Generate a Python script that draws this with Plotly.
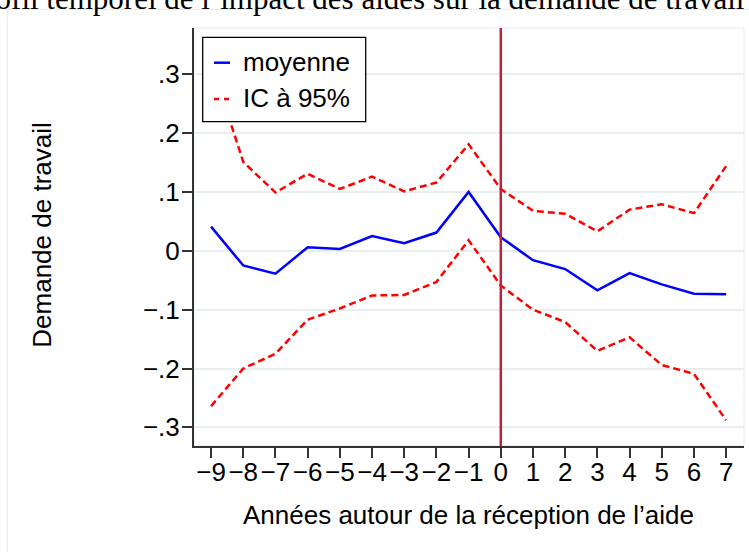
import plotly.graph_objects as go

# Data
annees = list(range(-9, 8))
moyenne = [0.041, -0.025, -0.039, 0.006, 0.003, 0.025, 0.013, 0.031, 0.100, 0.023,
           -0.016, -0.031, -0.067, -0.038, -0.057, -0.073, -0.074]
ic_haut = [0.320, 0.151, 0.099, 0.131, 0.105, 0.126, 0.101, 0.116, 0.181, 0.105,
           0.068, 0.063, 0.033, 0.070, 0.079, 0.064, 0.144]
ic_bas = [-0.264, -0.200, -0.175, -0.117, -0.098, -0.076, -0.075, -0.053, 0.018, -0.059,
          -0.100, -0.121, -0.170, -0.147, -0.194, -0.209, -0.288]

x_ticks = list(range(-9, 8))
x_ticktext = [("\u2212" + str(-v)) if v < 0 else str(v) for v in x_ticks]
y_ticks = [-0.3, -0.2, -0.1, 0.0, 0.1, 0.2, 0.3]
y_ticktext = ["\u2212.3", "\u2212.2", "\u2212.1", "0", ".1", ".2", ".3"]

titre = "Profil temporel de l\u2019impact des aides sur la demande de travail"
titre_x = "Ann\u00e9es autour de la r\u00e9ception de l\u2019aide"
titre_y = "Demande de travail"
noms = ["moyenne", "IC \u00e0 95%"]

FONT = "Liberation Sans, Arial, sans-serif"
AXIS = "#333333"
LIGHT = "#e3eaec"
BLEU = "#0000ff"
ROUGE = "#ff0000"
DASH = "7px,4px"

fig = go.Figure()
fig.add_trace(go.Scatter(x=annees, y=moyenne, mode="lines", name=noms[0],
                         line=dict(color=BLEU, width=2.5)))
fig.add_trace(go.Scatter(x=annees, y=ic_haut, mode="lines", name=noms[1],
                         line=dict(color=ROUGE, width=2.5, dash=DASH)))
fig.add_trace(go.Scatter(x=annees, y=ic_bas, mode="lines", name=noms[1],
                         line=dict(color=ROUGE, width=2.5, dash=DASH)))

W, H = 749, 552
ml, mr, mt, mb = 194, 5, 28, 106
pw, ph = W - ml - mr, H - mt - mb

def px_x(p):
    return (p - ml) / pw

def px_y(p):
    return 1 - (p - mt) / ph

shapes = [
    # outer graph-region frame
    dict(type="rect", xref="paper", yref="paper",
         x0=px_x(7.3), x1=px_x(800), y0=px_y(640), y1=px_y(9.3),
         line=dict(color=LIGHT, width=1), fillcolor="rgba(0,0,0,0)", layer="below"),
    # plot-region frame
    dict(type="rect", xref="paper", yref="paper", x0=0, x1=1, y0=0, y1=1,
         line=dict(color=LIGHT, width=1), fillcolor="rgba(0,0,0,0)", layer="below"),
    # vertical reference line at 0
    dict(type="line", xref="x", yref="paper", x0=0, x1=0, y0=0, y1=1,
         line=dict(color="#c41e3a", width=2.5), layer="above"),
    # legend box (opaque, framed)
    dict(type="rect", xref="paper", yref="paper",
         x0=px_x(202.7), x1=px_x(365.7), y0=px_y(121.7), y1=px_y(37.3),
         line=dict(color="black", width=1.3), fillcolor="white", layer="above"),
    # legend keys
    dict(type="line", xref="paper", yref="paper",
         x0=px_x(214), x1=px_x(230), y0=px_y(62.7), y1=px_y(62.7),
         line=dict(color=BLEU, width=2.5), layer="above"),
    dict(type="line", xref="paper", yref="paper",
         x0=px_x(214), x1=px_x(230), y0=px_y(99), y1=px_y(99),
         line=dict(color=ROUGE, width=2.5, dash="5px,5px"), layer="above"),
]

annotations = [
    dict(text=titre, xref="paper", yref="paper", x=px_x(356), y=px_y(-1.5),
         xanchor="center", yanchor="middle", showarrow=False,
         font=dict(family="Liberation Serif, Times New Roman, serif", size=31, color="black")),
    dict(text=titre_x, xref="paper", yref="paper", x=px_x(468.5), y=px_y(514.6),
         xanchor="center", yanchor="middle", showarrow=False,
         font=dict(family=FONT, size=26, color="black")),
    dict(text=titre_y, xref="paper", yref="paper", x=px_x(41.7), y=px_y(235),
         xanchor="center", yanchor="middle", showarrow=False, textangle=-90,
         font=dict(family=FONT, size=26, color="black")),
    dict(text=noms[0], xref="paper", yref="paper", x=px_x(240.5), y=px_y(61.5),
         xanchor="left", yanchor="middle", showarrow=False,
         font=dict(family=FONT, size=26, color="black")),
    dict(text=noms[1], xref="paper", yref="paper", x=px_x(240.5), y=px_y(97.8),
         xanchor="left", yanchor="middle", showarrow=False,
         font=dict(family=FONT, size=26, color="black")),
]

fig.update_layout(
    width=W, height=H,
    margin=dict(l=ml, r=mr, t=mt, b=mb, pad=0),
    paper_bgcolor="white", plot_bgcolor="white",
    font=dict(family=FONT, size=26, color="black"),
    showlegend=False,
    xaxis=dict(range=[-9.53, 7.555], tickmode="array", tickvals=x_ticks, ticktext=x_ticktext,
               showgrid=False, zeroline=False, showline=True, linecolor=AXIS, linewidth=2,
               ticks="outside", ticklen=10, tickwidth=2, tickcolor=AXIS,
               ticklabelstandoff=-8,
               tickfont=dict(family=FONT, size=26, color="black")),
    yaxis=dict(range=[-0.3317, 0.3786], tickmode="array", tickvals=y_ticks, ticktext=y_ticktext,
               showgrid=True, gridcolor="#e8eff1", gridwidth=2, zeroline=False,
               showline=True, linecolor=AXIS, linewidth=2,
               ticks="outside", ticklen=10, tickwidth=2, tickcolor=AXIS,
               ticklabelstandoff=-3,
               tickfont=dict(family=FONT, size=26, color="black")),
    shapes=shapes,
    annotations=annotations,
)

fig.write_html("out.html",
               config={"displayModeBar": False},
               post_script="document.body.style.margin='0px';document.body.style.overflow='hidden';")
